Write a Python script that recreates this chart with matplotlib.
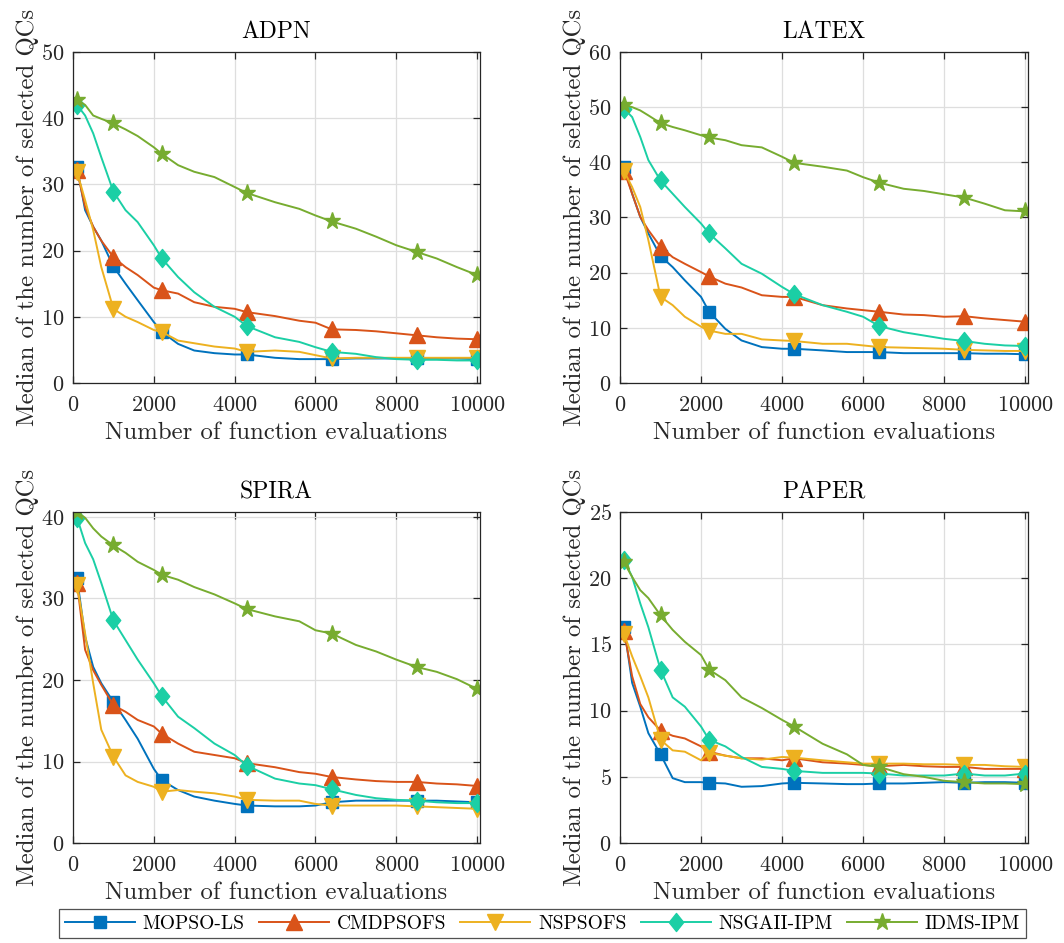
import matplotlib
matplotlib.use('Agg')
import matplotlib.pyplot as plt
from matplotlib.path import Path

plt.rcParams['font.family'] = 'serif'
plt.rcParams['font.serif'] = ['cmr10']
plt.rcParams['axes.formatter.use_mathtext'] = True
plt.rcParams['mathtext.fontset'] = 'cm'

# evaluations where the medians were read
evals = [100, 300, 500, 700, 1000, 1300, 1600, 2000, 2200, 2600, 3000, 3500, 4000,
         4300, 5000, 5600, 6000, 6400, 7000, 7500, 8000, 8500, 9000, 9500, 10000]
mark_idx = [0, 4, 8, 13, 17, 21, 24]

algos = ['MOPSO-LS', 'CMDPSOFS', 'NSPSOFS', 'NSGAII-IPM', 'IDMS-IPM']
problems = ['ADPN', 'LATEX', 'SPIRA', 'PAPER']

adpn_mopso = [32.6, 26.1, 23.6, 21.5, 17.6, 15.0, 12.5, 9.2, 7.7, 5.9, 4.9, 4.5, 4.3,
              4.3, 3.8, 3.6, 3.6, 3.6, 3.7, 3.7, 3.7, 3.7, 3.7, 3.7, 3.6]
adpn_cmdpso = [32.1, 26.6, 23.6, 21.5, 19.0, 17.5, 16.3, 14.4, 14.0, 13.5, 12.2, 11.5, 11.2,
               10.7, 10.1, 9.4, 9.1, 8.1, 8.0, 7.8, 7.5, 7.2, 6.9, 6.7, 6.6]
adpn_nspso = [31.9, 27.6, 23.1, 17.5, 11.2, 10.0, 9.2, 8.0, 7.7, 6.4, 6.0, 5.5, 5.2,
              4.7, 4.9, 4.7, 4.2, 3.7, 3.8, 3.8, 3.8, 3.8, 3.8, 3.8, 3.8]
adpn_nsga = [42.0, 40.4, 37.7, 34.1, 28.9, 26.1, 24.3, 20.8, 18.8, 16.0, 13.7, 11.5, 10.0,
             8.6, 6.9, 6.2, 5.4, 4.7, 4.4, 3.9, 3.6, 3.5, 3.5, 3.4, 3.4]
adpn_idms = [42.8, 42.0, 40.4, 39.9, 39.2, 38.3, 37.3, 35.6, 34.6, 32.9, 31.9, 31.1, 29.6,
             28.7, 27.3, 26.3, 25.3, 24.4, 23.3, 22.1, 20.8, 19.8, 18.8, 17.5, 16.3]

latex_mopso = [39.2, 34.3, 30.1, 27.1, 23.0, 21.0, 18.6, 15.6, 12.9, 9.8, 7.7, 6.5, 6.2,
               6.2, 5.9, 5.6, 5.6, 5.6, 5.4, 5.4, 5.4, 5.4, 5.3, 5.3, 5.2]
latex_cmdpso = [38.5, 34.3, 30.1, 27.7, 24.7, 22.8, 21.6, 20.1, 19.3, 18.0, 17.3, 15.9, 15.6,
                15.6, 14.1, 13.5, 13.2, 12.9, 12.4, 12.3, 12.0, 12.1, 11.7, 11.4, 11.1]
latex_nspso = [38.4, 35.5, 31.9, 25.9, 15.6, 14.1, 12.0, 10.2, 9.5, 8.9, 8.9, 7.9, 7.7,
               7.6, 7.1, 7.1, 6.8, 6.5, 6.4, 6.3, 6.2, 6.0, 5.9, 5.8, 5.8]
latex_nsga = [49.7, 48.2, 44.6, 40.4, 36.7, 34.3, 31.9, 28.9, 27.1, 24.4, 21.6, 19.8, 17.4,
              16.1, 14.1, 12.9, 12.0, 10.3, 9.2, 8.6, 8.0, 7.6, 7.1, 6.8, 6.7]
latex_idms = [50.4, 50.0, 49.4, 48.5, 47.1, 46.4, 45.8, 44.9, 44.5, 44.0, 43.1, 42.7, 41.0,
              39.9, 39.2, 38.5, 37.3, 36.3, 35.2, 34.8, 34.2, 33.6, 32.5, 31.3, 31.1]

spira_mopso = [32.5, 25.3, 21.6, 19.6, 17.3, 15.1, 12.8, 9.1, 7.7, 6.5, 5.7, 5.2, 4.8,
               4.6, 4.5, 4.5, 4.6, 5.0, 5.2, 5.2, 5.2, 5.2, 5.2, 5.1, 5.0]
spira_cmdpso = [31.9, 23.7, 21.2, 19.4, 16.9, 16.1, 15.1, 14.3, 13.4, 12.2, 11.2, 10.8, 10.4,
                9.8, 9.3, 8.7, 8.5, 8.1, 7.8, 7.6, 7.5, 7.5, 7.3, 7.2, 7.0]
spira_nspso = [31.7, 25.7, 19.6, 13.9, 10.6, 8.3, 7.5, 6.9, 6.3, 6.5, 6.3, 6.1, 5.7,
               5.3, 5.2, 5.2, 4.8, 4.6, 4.6, 4.6, 4.6, 4.5, 4.4, 4.3, 4.2]
spira_nsga = [39.9, 36.8, 34.8, 31.9, 27.3, 24.9, 22.5, 19.6, 18.0, 15.5, 14.1, 12.2, 10.8,
              9.5, 7.9, 7.3, 7.1, 6.6, 5.9, 5.5, 5.3, 5.2, 5.0, 4.9, 4.9]
spira_idms = [40.6, 39.9, 38.6, 37.6, 36.5, 35.6, 34.5, 33.5, 32.9, 32.3, 31.4, 30.5, 29.4,
              28.7, 27.8, 27.2, 26.1, 25.7, 24.3, 23.5, 22.5, 21.6, 21.0, 20.1, 18.9]

paper_mopso = [16.3, 12.1, 10.3, 8.3, 6.7, 4.9, 4.6, 4.6, 4.55, 4.5, 4.25, 4.3, 4.5,
               4.55, 4.5, 4.45, 4.45, 4.5, 4.5, 4.55, 4.6, 4.55, 4.6, 4.6, 4.55]
paper_cmdpso = [16.0, 12.6, 10.5, 9.5, 8.5, 8.1, 7.9, 7.3, 6.9, 6.6, 6.4, 6.4, 6.25,
                6.4, 6.1, 6.0, 5.9, 5.8, 5.9, 5.8, 5.75, 5.75, 5.6, 5.6, 5.6]
paper_nspso = [15.8, 14.1, 12.6, 11.0, 7.8, 7.0, 6.9, 6.25, 6.8, 6.6, 6.4, 6.3, 6.5,
               6.45, 6.25, 6.1, 6.0, 6.0, 6.0, 5.95, 5.95, 5.9, 5.9, 5.8, 5.75]
paper_nsga = [21.4, 20.1, 18.1, 16.3, 13.1, 11.0, 10.3, 8.8, 7.8, 7.3, 6.5, 5.75, 5.6,
              5.45, 5.3, 5.3, 5.3, 5.25, 5.1, 5.1, 5.1, 5.25, 5.1, 5.1, 5.25]
paper_idms = [21.2, 20.1, 19.1, 18.5, 17.2, 16.1, 15.2, 14.2, 13.1, 12.3, 11.0, 10.2, 9.3,
              8.8, 7.5, 6.7, 5.9, 5.75, 5.2, 5.0, 4.7, 4.6, 4.5, 4.5, 4.45]

data = {
    'ADPN': [adpn_mopso, adpn_cmdpso, adpn_nspso, adpn_nsga, adpn_idms],
    'LATEX': [latex_mopso, latex_cmdpso, latex_nspso, latex_nsga, latex_idms],
    'SPIRA': [spira_mopso, spira_cmdpso, spira_nspso, spira_nsga, spira_idms],
    'PAPER': [paper_mopso, paper_cmdpso, paper_nspso, paper_nsga, paper_idms],
}
ylims = {'ADPN': (0, 50), 'LATEX': (0, 60), 'SPIRA': (0, 40.6), 'PAPER': (0, 25)}
yticks = {'ADPN': range(0, 51, 10), 'LATEX': range(0, 61, 10),
          'SPIRA': range(0, 41, 10), 'PAPER': range(0, 26, 5)}

colors = ['#0072BD', '#D95319', '#EDB120', '#1BCFA5', '#77AC30']
diamond = Path([(0, 1), (0.8, 0), (0, -1), (-0.8, 0), (0, 1)],
               [Path.MOVETO, Path.LINETO, Path.LINETO, Path.LINETO, Path.CLOSEPOLY])
markers = ['s', '^', 'v', diamond, '*']
msizes = [9, 11.5, 11.5, 13, 12.5]

fig = plt.figure(figsize=(10.64, 9.43), dpi=100)
positions = [
    [0.0686, 0.5939, 0.3825, 0.351],
    [0.5827, 0.5939, 0.3835, 0.351],
    [0.0686, 0.1060, 0.3825, 0.351],
    [0.5827, 0.1060, 0.3835, 0.351],
]
axc = '#262626'
handles = []
for p, pos in zip(problems, positions):
    ax = fig.add_axes(pos)
    for k in range(5):
        h, = ax.plot(evals, data[p][k], color=colors[k], lw=1.4,
                     marker=markers[k], markersize=msizes[k], markevery=mark_idx,
                     markerfacecolor=colors[k], markeredgecolor=colors[k],
                     label=algos[k])
        if p == 'ADPN':
            handles.append(h)
    ax.set_xlim(0, 10070)
    ax.set_ylim(*ylims[p])
    ax.set_xticks(range(0, 10001, 2000))
    ax.set_yticks(list(yticks[p]))
    ax.grid(True, color='#dedede', lw=0.9)
    ax.set_axisbelow(True)
    ax.tick_params(direction='in', top=True, right=True, length=5, width=0.9,
                   labelsize=16, colors=axc)
    ax.tick_params(axis='x', pad=9)
    ax.tick_params(axis='y', pad=6)
    for s in ax.spines.values():
        s.set_color(axc)
        s.set_linewidth(0.9)
    ax.set_title(p, fontsize=17, color='black', pad=10)
    ax.set_xlabel('Number of function evaluations', fontsize=17.8, color=axc, labelpad=5)
    ax.set_ylabel('Median of the number of selected QCs', fontsize=17.8, color=axc, labelpad=2)

leg = fig.legend(handles=handles, loc='center', ncol=5,
                 bbox_to_anchor=(0.0465, 0.003, 0.9265, 0.035), mode='expand',
                 fontsize=14, handlelength=3.6, frameon=True, fancybox=False,
                 borderpad=0.3, columnspacing=1.0, handletextpad=0.4)
leg.get_frame().set_edgecolor(axc)
leg.get_frame().set_linewidth(0.9)

fig.savefig('out.png', dpi=100)
